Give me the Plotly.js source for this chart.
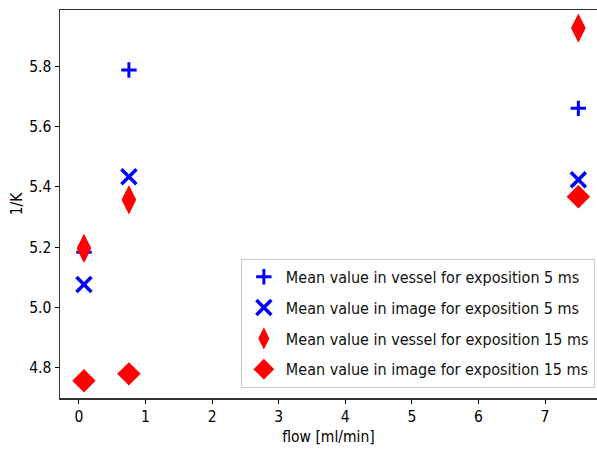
<!DOCTYPE html>
<html>
<head>
<meta charset="utf-8">
<script src="https://cdn.plot.ly/plotly-3.0.1.min.js"></script>
<style>html,body{margin:0;padding:0;background:#fff;overflow:hidden;}#chart{width:597px;height:455px;}</style>
</head>
<body>
<div id="chart"></div>
<script>
const flow = [0.075, 0.75, 7.5];
const vessel5 = [5.183, 5.787, 5.66];
const image5 = [5.076, 5.433, 5.423];
const vessel15 = [5.196, 5.357, 5.926];
const image15 = [4.757, 4.78, 5.367];
const seriesNames = [
  "Mean value in vessel for exposition 5 ms",
  "Mean value in image for exposition 5 ms",
  "Mean value in vessel for exposition 15 ms",
  "Mean value in image for exposition 15 ms"
];
const xTitle = "flow [ml/min]";
const yTitle = "1/K";

const FONT = "DejaVu Sans Condensed, DejaVu Sans, sans-serif";

const traces = [
  {x: flow, y: vessel5, name: seriesNames[0], legendgroup: "a", mode: "markers", type: "scatter",
   marker: {symbol: "cross-thin", size: 11, line: {color: "#0000ff", width: 3}, color: "#0000ff"}},
  {x: flow, y: image5, name: seriesNames[1], legendgroup: "b", mode: "markers", type: "scatter",
   marker: {symbol: "x-thin", size: 15, line: {color: "#0000ff", width: 3.5}, color: "#0000ff"}},
  {x: flow, y: vessel15, name: seriesNames[2], legendgroup: "c", mode: "markers", type: "scatter",
   marker: {symbol: "diamond-tall", size: 21, color: "#ff0000", line: {width: 0}}},
  {x: flow, y: image15, name: seriesNames[3], legendgroup: "d", mode: "markers", type: "scatter",
   marker: {symbol: "diamond", size: 18, color: "#ff0000", line: {width: 0}}}
];

const layout = {
  width: 597, height: 455,
  margin: {l: 60, r: 0, t: 10, b: 57},
  paper_bgcolor: "#fff", plot_bgcolor: "#fff",
  font: {family: FONT, size: 15, color: "#000"},
  showlegend: true,
  legend: {
    x: 0.996, y: 0.026, xanchor: "right", yanchor: "bottom",
    bgcolor: "#fff", bordercolor: "#cccccc", borderwidth: 1,
    font: {family: FONT, size: 16, color: "#111"},
    traceorder: "grouped", tracegroupgap: 7, itemwidth: 34
  },
  xaxis: {
    range: [-0.285, 7.78],
    tickvals: [0, 1, 2, 3, 4, 5, 6, 7],
    ticks: "outside", ticklen: 4, tickcolor: "#000",
    showgrid: false, zeroline: false,
    showline: true, linecolor: "#333", linewidth: 1.5, mirror: true,
    tickfont: {family: FONT, size: 15.5},
    title: {text: xTitle, font: {family: FONT, size: 15.5}, standoff: 6}
  },
  yaxis: {
    range: [4.70, 5.986],
    tickvals: [4.8, 5.0, 5.2, 5.4, 5.6, 5.8],
    ticktext: ["4.8", "5.0", "5.2", "5.4", "5.6", "5.8"],
    ticks: "outside", ticklen: 4, tickcolor: "#000",
    showgrid: false, zeroline: false,
    showline: true, linecolor: "#333", linewidth: 1.5,
    tickfont: {family: FONT, size: 15.5},
    title: {text: yTitle, font: {family: FONT, size: 15.5}, standoff: 3}
  }
};

Plotly.newPlot("chart", traces, layout, {displayModeBar: false, staticPlot: true});
</script>
</body>
</html>
